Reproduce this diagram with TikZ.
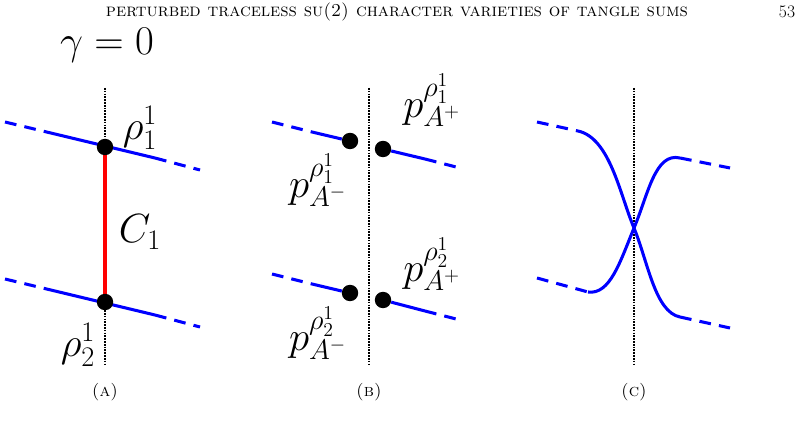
\documentclass[tikz,border=0pt]{standalone}
\begin{document}
\begin{tikzpicture}[x=0.03cm,y=-0.03cm,
 vd/.style={densely dotted,line width=1.4pt},
 bl/.style={blue,line width=2.6pt},
 bd/.style={blue,line width=2.6pt,dash pattern=on 10pt off 7pt},
 dot/.style={circle,fill=black,inner sep=0pt,minimum size=14pt},
 lab/.style={font=\fontsize{24}{28}\selectfont,scale=1.4,transform shape},
 captxt/.style={font=\fontsize{15}{18}\selectfont\scshape}]
\useasboundingbox (0,0) rectangle (812,431);
\node[font=\fontsize{15.5}{18}\selectfont\scshape] (hd) at (397,12) {perturbed traceless su(2) character varieties of tangle sums};
\node[font=\fontsize{15}{18}\selectfont] (pg) at (787,12) {53};
% Panel A
\draw[vd] (105,88) -- (105,365);
\coordinate (a1) at (5,122); \coordinate (a2) at (55,134); \coordinate (a3) at (155,158); \coordinate (a4) at (200,170);
\coordinate (b1) at (5,279); \coordinate (b2) at (55,291); \coordinate (b3) at (155,315); \coordinate (b4) at (200,327);
\draw[bd] (a1) -- (a2); \draw[bl] (a2) -- (a3); \draw[bd] (a3) -- (a4);
\draw[bd] (b1) -- (b2); \draw[bl] (b2) -- (b3); \draw[bd] (b3) -- (b4);
\draw[red,line width=4pt] (105,147) -- (105,302);
\node[dot] (r1) at (105,147) {}; \node[dot] (r2) at (105,302) {};
\node[lab] (g) at (107,45) {$\gamma=0$};
\node[lab] (l1) at (140,128) {$\rho_1^1$};
\node[lab] (c1) at (140,232) {$C_1$};
\node[lab] (l2) at (78,345) {$\rho_2^1$};
\node[captxt] (ca) at (105,392) {(a)};
% Panel B
\draw[vd] (369,88) -- (369,365);
\node[dot] (p1) at (350,141) {}; \node[dot] (q1) at (383,149) {};
\node[dot] (p2) at (350,293) {}; \node[dot] (q2) at (383,300) {};
\coordinate (u1) at (272,122); \coordinate (u2) at (312,132);
\coordinate (v1) at (425,159); \coordinate (v2) at (460,168);
\coordinate (w1) at (272,274); \coordinate (w2) at (312,284);
\coordinate (z1) at (425,311); \coordinate (z2) at (460,320);
\draw[bd] (u1) -- (u2); \draw[bl] (u2) -- (p1);
\draw[bl] (q1) -- (v1); \draw[bd] (v1) -- (v2);
\draw[bd] (w1) -- (w2); \draw[bl] (w2) -- (p2);
\draw[bl] (q2) -- (z1); \draw[bd] (z1) -- (z2);
\node[lab] (t1) at (432,100) {$p^{\rho_1^1}_{A^+}$};
\node[lab] (t2) at (318,180) {$p^{\rho_1^1}_{A^-}$};
\node[lab] (t3) at (432,264) {$p^{\rho_2^1}_{A^+}$};
\node[lab] (t4) at (318,333) {$p^{\rho_2^1}_{A^-}$};
\node[captxt] (cb) at (369,392) {(b)};
% Panel C
\draw[vd] (634,88) -- (634,365);
\coordinate (x) at (634,228);
\draw[bd] (537,122) -- (578,131);
\draw[bd] (537,278) -- (588,292);
\draw[bd] (680,158) -- (730,168);
\draw[bd] (680,317) -- (730,328);
\draw[bl] (578,131) .. controls (610,138) and (620,195) .. (x) .. controls (648,262) and (655,312) .. (680,317);
\draw[bl] (588,292) .. controls (610,295) and (620,262) .. (x) .. controls (648,195) and (655,152) .. (680,158);
\node[captxt] (cc) at (634,392) {(c)};
\end{tikzpicture}
\end{document}
